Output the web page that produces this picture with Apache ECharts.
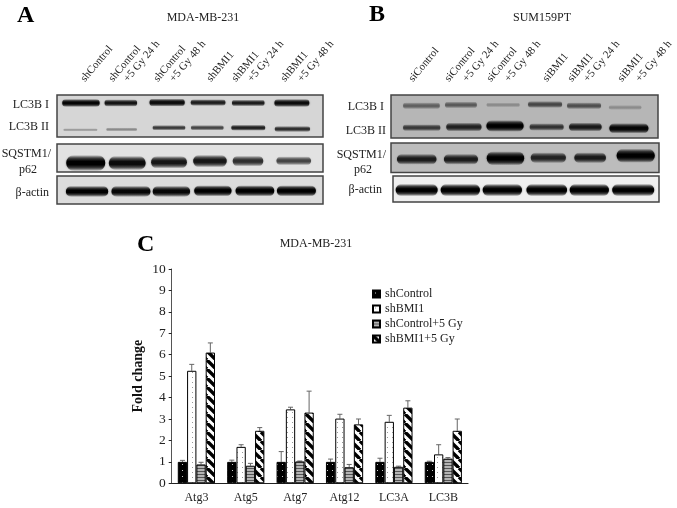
<!DOCTYPE html>
<html>
<head>
<meta charset="utf-8">
<title>BMI1 knockdown and autophagy markers</title>
<script src="https://cdn.jsdelivr.net/npm/echarts@6/dist/echarts.min.js"></script>
<style>
  html, body { margin: 0; padding: 0; background: #fff; }
  #chart { width: 677px; height: 508px; }
</style>
</head>
<body>
<div id="chart"></div>
<script>
// panel C values
const genes = ['Atg3', 'Atg5', 'Atg7', 'Atg12', 'LC3A', 'LC3B'];
const shControl = [1.0, 1.0, 1.0, 1.0, 1.0, 1.0];
const shBMI1 = [5.25, 1.7, 3.45, 3.02, 2.87, 1.35];
const shControlGy = [0.88, 0.82, 1.02, 0.75, 0.77, 1.15];
const shBMI1Gy = [6.1, 2.45, 3.3, 2.75, 3.53, 2.45];
// top of the error bars
const shControlTop = [1.07, 1.08, 1.48, 1.13, 1.17, 1.03];
const shBMI1Top = [5.55, 1.8, 3.55, 3.22, 3.17, 1.8];
const shControlGyTop = [0.98, 0.93, 1.04, 0.88, 0.8, 1.2];
const shBMI1GyTop = [6.55, 2.6, 4.3, 3.0, 3.85, 3.0];
const yTicks = [0, 10, 1];

// blot bands, all in percent of the gel: x centre, y centre, width, thickness, darkness
const a_lc3b1 = { x: [9, 24, 41.4, 56.8, 71.9, 88.3], y: [19, 19, 18, 18, 19, 19], w: [13.8, 12, 13, 12.8, 12, 12.9], t: [12, 11, 12, 10, 10, 12], d: [0.95, 0.85, 0.9, 0.8, 0.8, 0.9] };
const a_lc3b2 = { x: [8.8, 24.3, 42.1, 56.5, 71.9, 88.5], y: [83, 82, 78, 78, 78, 81], w: [12.5, 11.3, 12, 12, 12.5, 13], t: [5, 6, 8, 8, 9, 9], d: [0.25, 0.32, 0.65, 0.6, 0.78, 0.7] };
const a_p62 = { x: [10.8, 26.4, 42.1, 57.5, 71.8, 89], y: [68, 68, 65, 61, 61, 60], w: [14.4, 13.6, 13.2, 12.4, 11.3, 12.8], t: [36, 32, 28, 28, 24, 20], d: [1, 0.92, 0.85, 0.85, 0.72, 0.62] };
const a_actin = { x: [11.3, 27.8, 43, 58.6, 74.4, 90], y: [55, 55, 55, 53, 53, 53], w: [15.6, 14.4, 13.8, 13.8, 14.3, 14.4], t: [25, 25, 25, 25, 25, 25], d: [1, 0.95, 0.95, 1, 1, 1] };
const b_lc3b1 = { x: [11.4, 26.2, 42, 57.7, 72.3, 87.7], y: [25, 23, 23, 22, 25, 29], w: [13.5, 11.7, 12.2, 12.5, 12.5, 12], t: [10, 10, 7, 10, 10, 7], d: [0.42, 0.45, 0.22, 0.55, 0.5, 0.22] };
const b_lc3b2 = { x: [11.5, 27.3, 42.7, 58.3, 72.8, 89.1], y: [76, 74.4, 72, 74.4, 74.4, 77.4], w: [13.7, 13, 13.7, 12.5, 12, 14.4], t: [10, 13, 17, 11, 13, 15], d: [0.62, 0.75, 1, 0.65, 0.8, 0.95] };
const b_p62 = { x: [9.6, 26.1, 42.7, 58.7, 74.3, 91.3], y: [55, 55, 52, 50, 50, 43], w: [14.5, 12.5, 13.7, 12.9, 11.6, 14], t: [23, 23, 30, 23, 23, 30], d: [0.8, 0.8, 1, 0.75, 0.8, 1] };
const b_actin = { x: [8.9, 25.3, 41.1, 57.8, 73.8, 90.3], y: [54, 54, 54, 54, 54, 54], w: [15.5, 14.5, 14.5, 15, 14.5, 15.5], t: [30, 30, 30, 30, 30, 30], d: [1, 1, 1, 1, 1, 1] };

const serif = '"Liberation Serif", "Times New Roman", serif';

// little canvas tiles for the bar fills
function tile(w, h, draw) {
  const c = document.createElement('canvas');
  c.width = w;
  c.height = h;
  draw(c.getContext('2d'));
  return { image: c, repeat: 'repeat' };
}
const fillBlack = tile(5, 6, ctx => {
  ctx.fillStyle = '#000';
  ctx.fillRect(0, 0, 5, 6);
  ctx.fillStyle = '#ccc';
  ctx.fillRect(2, 2, 1, 1);
});
const fillDots = tile(5, 5, ctx => {
  ctx.fillStyle = '#fff';
  ctx.fillRect(0, 0, 5, 5);
  ctx.fillStyle = '#999';
  ctx.fillRect(2, 2, 1, 1);
});
const fillGray = tile(2, 3, ctx => {
  ctx.fillStyle = '#b4b4b4';
  ctx.fillRect(0, 0, 2, 3);
  ctx.fillStyle = '#555';
  ctx.fillRect(0, 0, 2, 1);
});
const fillDiag = tile(9, 9, ctx => {
  ctx.fillStyle = '#fff';
  ctx.fillRect(0, 0, 9, 9);
  ctx.strokeStyle = '#000';
  ctx.lineWidth = 3.4;
  [-9, 0, 9].forEach(o => {
    ctx.beginPath();
    ctx.moveTo(o, 0);
    ctx.lineTo(o + 9, 9);
    ctx.stroke();
  });
});

const barW = 9.3;
const barSeries = [
  { name: 'shControl', data: shControl, top: shControlTop, fill: fillBlack },
  { name: 'shBMI1', data: shBMI1, top: shBMI1Top, fill: fillDots },
  { name: 'shControl+5 Gy', data: shControlGy, top: shControlGyTop, fill: fillGray },
  { name: 'shBMI1+5 Gy', data: shBMI1Gy, top: shBMI1GyTop, fill: fillDiag }
];

// the six gels, grid boxes in page pixels
const gels = [
  { box: [57, 95, 266, 42], bg: '#d6d6d6', rows: [a_lc3b1, a_lc3b2] },
  { box: [57, 144, 266, 28], bg: '#e2e2e2', rows: [a_p62] },
  { box: [57, 176, 266, 28], bg: '#dcdcdc', rows: [a_actin] },
  { box: [391, 95, 267, 43], bg: '#b6b6b6', rows: [b_lc3b1, b_lc3b2] },
  { box: [391, 143, 268, 29.5], bg: '#bcbcbc', rows: [b_p62] },
  { box: [393, 176, 266, 26], bg: '#efefef', rows: [b_actin] }
];

const grids = [], xAxes = [], yAxes = [], series = [];

gels.forEach((gel, i) => {
  grids.push({
    show: true,
    left: gel.box[0], top: gel.box[1], width: gel.box[2], height: gel.box[3],
    backgroundColor: gel.bg,
    borderColor: '#444',
    borderWidth: 1.5
  });
  xAxes.push({ gridIndex: i, type: 'value', min: 0, max: 100, show: false });
  yAxes.push({ gridIndex: i, type: 'value', min: 0, max: 100, inverse: true, show: false });
  const data = [];
  gel.rows.forEach(r => r.x.forEach((x, k) => data.push([x, r.y[k], r.w[k], r.t[k], r.d[k]])));
  series.push({
    type: 'custom',
    xAxisIndex: i,
    yAxisIndex: i,
    silent: true,
    data: data,
    renderItem: (params, api) => {
      const c = api.coord([api.value(0), api.value(1)]);
      const s = api.size([api.value(2), api.value(3)]);
      const d = api.value(4);
      const w = s[0] * 1.02;
      const h = s[1] * 1.6;
      const shade = a => 'rgba(0,0,0,' + a + ')';
      // soft top and bottom edge, dark in the middle
      return {
        type: 'rect',
        shape: { x: c[0] - w / 2, y: c[1] - h / 2, width: w, height: h, r: h / 2 },
        style: {
          shadowBlur: 2,
          shadowColor: shade(d * 0.5),
          fill: {
            type: 'linear', x: 0, y: 0, x2: 0, y2: 1,
            colorStops: [
              { offset: 0, color: shade(0) },
              { offset: 0.2, color: shade(d * 0.6) },
              { offset: 0.4, color: shade(d) },
              { offset: 0.6, color: shade(d) },
              { offset: 0.8, color: shade(d * 0.6) },
              { offset: 1, color: shade(0) }
            ]
          }
        }
      };
    }
  });
});

// bar chart is the last grid
const ci = gels.length;
grids.push({ left: 171.7, top: 269, width: 296.3, height: 214.3 });
xAxes.push({
  gridIndex: ci,
  type: 'category',
  data: genes,
  axisLine: { lineStyle: { color: '#222', width: 1.2 } },
  axisTick: { length: 3, lineStyle: { color: '#222' } },
  axisLabel: { color: '#222', fontFamily: serif, fontSize: 12, margin: 9 }
});
yAxes.push({
  gridIndex: ci,
  type: 'value',
  min: yTicks[0],
  max: yTicks[1],
  interval: yTicks[2],
  name: 'Fold change',
  nameLocation: 'middle',
  nameGap: 26,
  nameTextStyle: { color: '#111', fontFamily: serif, fontSize: 14, fontWeight: 'bold' },
  splitLine: { show: false },
  axisLine: { show: true, lineStyle: { color: '#555', width: 1 } },
  axisTick: { show: true, length: 3, lineStyle: { color: '#222' } },
  axisLabel: { color: '#222', fontFamily: serif, fontSize: 13.5, margin: 6 }
});

barSeries.forEach(b => {
  series.push({
    name: b.name,
    type: 'bar',
    xAxisIndex: ci,
    yAxisIndex: ci,
    barWidth: barW,
    barGap: 0,
    data: b.data,
    itemStyle: { color: b.fill, borderColor: '#000', borderWidth: 1 }
  });
});

barSeries.forEach((b, n) => {
  series.push({
    name: b.name + ' error',
    type: 'custom',
    xAxisIndex: ci,
    yAxisIndex: ci,
    silent: true,
    z: 1,
    data: b.data.map((v, k) => [k, v, b.top[k]]),
    renderItem: (params, api) => {
      const low = api.coord([api.value(0), api.value(1)]);
      const high = api.coord([api.value(0), api.value(2)]);
      const x = low[0] + (n - 1.5) * barW;
      const st = { stroke: '#666', lineWidth: 1, fill: null };
      return {
        type: 'group',
        children: [
          { type: 'line', shape: { x1: x, y1: low[1], x2: x, y2: high[1] }, style: st },
          { type: 'line', shape: { x1: x - 2.5, y1: high[1], x2: x + 2.5, y2: high[1] }, style: st }
        ]
      };
    }
  });
});

// free text around the panels
function label(text, x, y, opts) {
  return {
    type: 'text',
    x: x,
    y: y,
    rotation: (opts && opts.rot) || 0,
    style: Object.assign({
      text: text,
      fontFamily: serif,
      fontSize: 12,
      fill: '#222',
      align: 'left',
      verticalAlign: 'middle'
    }, opts && opts.style)
  };
}
const bigLetter = { fontSize: 24, fontWeight: 'bold', fill: '#000' };
const right = { align: 'right' };
const mid = { align: 'center' };
const tilted = { rot: 50 * Math.PI / 180, style: { fontSize: 11, verticalAlign: 'bottom' } };

const texts = [
  label('A', 17, 16, { style: bigLetter }),
  label('B', 369, 15, { style: bigLetter }),
  label('C', 137, 245, { style: bigLetter }),
  label('MDA-MB-231', 203, 18, { style: mid }),
  label('SUM159PT', 542, 18, { style: mid }),
  label('MDA-MB-231', 316, 244, { style: mid }),
  label('LC3B I', 49, 105, { style: right }),
  label('LC3B II', 49, 127, { style: right }),
  label('SQSTM1/', 51, 154, { style: right }),
  label('p62', 37, 170, { style: right }),
  label('\u03b2-actin', 49, 193, { style: right }),
  label('LC3B I', 384, 107, { style: right }),
  label('LC3B II', 386, 131, { style: right }),
  label('SQSTM1/', 386, 155, { style: right }),
  label('p62', 372, 170, { style: right }),
  label('\u03b2-actin', 382, 190, { style: right })
];
[
  ['shControl', 87], ['shControl', 115], ['+5 Gy 24 h', 130], ['shControl', 160], ['+5 Gy 48 h', 176],
  ['shBMI1', 213], ['shBMI1', 238], ['+5 Gy 24 h', 254], ['shBMI1', 287], ['+5 Gy 48 h', 304],
  ['siControl', 415], ['siControl', 451], ['+5 Gy 24 h', 469], ['siControl', 493], ['+5 Gy 48 h', 511],
  ['siBMI1', 549], ['siBMI1', 574], ['+5 Gy 24 h', 590], ['siBMI1', 624], ['+5 Gy 48 h', 642]
].forEach(t => {
  texts.push(label(t[0], t[1], 84, tilted));
});

const chart = echarts.init(document.getElementById('chart'), null, { renderer: 'canvas' });
chart.setOption({
  animation: false,
  backgroundColor: '#fff',
  grid: grids,
  xAxis: xAxes,
  yAxis: yAxes,
  legend: {
    data: barSeries.map(b => b.name),
    orient: 'vertical',
    left: 372,
    top: 288,
    padding: 0,
    icon: 'rect',
    itemWidth: 7,
    itemHeight: 7,
    itemGap: 3,
    selectedMode: false,
    textStyle: { fontFamily: serif, fontSize: 12, color: '#222' }
  },
  graphic: texts,
  series: series
});
</script>
</body>
</html>
